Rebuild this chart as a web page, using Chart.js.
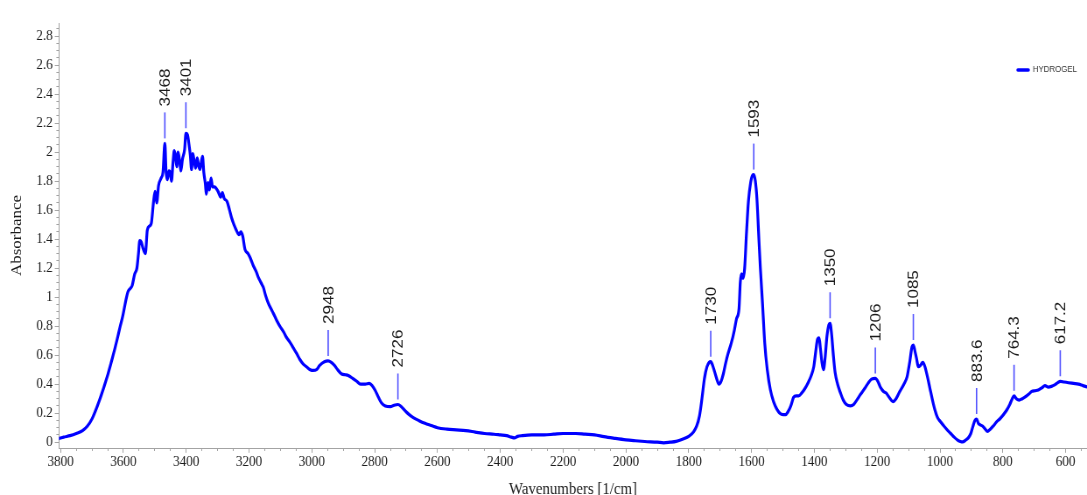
<!DOCTYPE html>
<html>
<head>
<meta charset="utf-8">
<title>HYDROGEL FTIR spectrum</title>
<script src="https://cdn.jsdelivr.net/npm/chart.js@4.4.1/dist/chart.umd.min.js"></script>
<style>
  html, body { margin: 0; padding: 0; background: #ffffff; overflow: hidden; }
  #spectrum { display: block; }
</style>
</head>
<body>
<!-- the drawing surface is rendered wide and shown narrower, giving the condensed look of the plot -->
<canvas id="spectrum" width="1242" height="495" style="width:1087px;height:495px"></canvas>
<script>
// ---- data -------------------------------------------------------------
const seriesName = 'HYDROGEL';

// wavenumber (1/cm), descending
const wavenumbers = [
  3805, 3790, 3770, 3750, 3730, 3715, 3700, 3690, 3676, 3662,
  3649, 3635, 3622, 3610, 3601, 3592, 3585, 3578, 3572, 3564,
  3557, 3552, 3548, 3543, 3538, 3530, 3524, 3517, 3511, 3504,
  3499, 3494, 3488, 3480, 3474, 3468, 3464, 3460, 3455, 3450,
  3447, 3442, 3438, 3433, 3430, 3426, 3421, 3417, 3412, 3405,
  3401, 3396, 3391, 3387, 3383, 3379, 3374, 3370, 3365, 3360,
  3356, 3352, 3348, 3344, 3339, 3336, 3331, 3326, 3321, 3316,
  3310, 3299, 3290, 3285, 3279, 3270, 3262, 3256, 3248, 3240,
  3232, 3226, 3220, 3213, 3203, 3196, 3187, 3178, 3171, 3162,
  3155, 3147, 3139, 3130, 3123, 3112, 3102, 3090, 3080, 3070,
  3059, 3048, 3038, 3028, 3017, 3005, 2996, 2985, 2975, 2960,
  2948, 2938, 2928, 2918, 2905, 2893, 2884, 2870, 2857, 2845,
  2830, 2817, 2808, 2799, 2788, 2778, 2766, 2750, 2738, 2726,
  2715, 2700, 2690, 2677, 2660, 2640, 2620, 2600, 2570, 2540,
  2510, 2480, 2450, 2420, 2400, 2380, 2365, 2355, 2345, 2330,
  2300, 2260, 2230, 2200, 2160, 2130, 2100, 2070, 2040, 2000,
  1970, 1940, 1900, 1880, 1860, 1840, 1820, 1800, 1785, 1775,
  1766, 1758, 1750, 1742, 1735, 1730, 1724, 1717, 1710, 1704,
  1697, 1690, 1682, 1675, 1665, 1655, 1648, 1640, 1636, 1632,
  1627, 1622, 1616, 1610, 1603, 1597, 1593, 1588, 1583, 1578,
  1572, 1565, 1558, 1550, 1540, 1530, 1520, 1510, 1500, 1492,
  1484, 1475, 1466, 1458, 1450, 1440, 1430, 1420, 1410, 1402,
  1396, 1390, 1385, 1381, 1376, 1371, 1366, 1360, 1354, 1350,
  1345, 1340, 1334, 1326, 1317, 1308, 1298, 1285, 1275, 1265,
  1253, 1240, 1228, 1218, 1206, 1198, 1190, 1180, 1172, 1162,
  1150, 1140, 1128, 1115, 1105, 1096, 1089, 1085, 1080, 1075,
  1069, 1062, 1055, 1048, 1040, 1032, 1024, 1016, 1008, 998,
  987, 975, 966, 955, 944, 935, 928, 918, 910, 902,
  895, 889, 883.6, 878, 872, 864, 856, 849, 840, 831,
  820, 810, 798, 788, 778, 770, 764.3, 757, 748, 738,
  730, 718, 708, 697, 687, 676, 666, 655, 645, 635,
  625, 617.2, 605, 591, 575, 559, 545, 530
];

// absorbance at each wavenumber above
const absorbance = [
  0.025, 0.035, 0.045, 0.06, 0.08, 0.11, 0.16, 0.21, 0.29, 0.38,
  0.47, 0.58, 0.69, 0.80, 0.88, 0.98, 1.04, 1.06, 1.08, 1.16,
  1.20, 1.30, 1.39, 1.38, 1.34, 1.30, 1.46, 1.49, 1.51, 1.66,
  1.73, 1.65, 1.77, 1.82, 1.86, 2.06, 1.86, 1.81, 1.87, 1.85,
  1.80, 1.93, 2.01, 1.95, 1.90, 2.00, 1.94, 1.87, 1.95, 2.02,
  2.13, 2.12, 2.05, 1.98, 1.88, 1.99, 1.93, 1.89, 1.96, 1.90,
  1.88, 1.93, 1.97, 1.86, 1.78, 1.71, 1.79, 1.74, 1.82, 1.76,
  1.76, 1.73, 1.69, 1.72, 1.68, 1.66, 1.60, 1.55, 1.50, 1.46,
  1.43, 1.45, 1.42, 1.33, 1.30, 1.27, 1.22, 1.18, 1.14, 1.10,
  1.07, 1.01, 0.96, 0.92, 0.89, 0.84, 0.80, 0.76, 0.72, 0.69,
  0.65, 0.61, 0.57, 0.54, 0.52, 0.50, 0.495, 0.50, 0.53, 0.555,
  0.56, 0.55, 0.53, 0.50, 0.47, 0.465, 0.46, 0.44, 0.42, 0.40,
  0.40, 0.405, 0.39, 0.36, 0.31, 0.27, 0.25, 0.245, 0.255, 0.26,
  0.245, 0.21, 0.19, 0.17, 0.15, 0.13, 0.115, 0.10, 0.09, 0.085,
  0.08, 0.07, 0.06, 0.055, 0.05, 0.045, 0.035, 0.03, 0.04, 0.045,
  0.05, 0.05, 0.055, 0.06, 0.06, 0.055, 0.05, 0.038, 0.028, 0.016,
  0.01, 0.005, 0.0, -0.004, 0.0, 0.006, 0.02, 0.04, 0.07, 0.11,
  0.18, 0.30, 0.44, 0.52, 0.55, 0.555, 0.53, 0.48, 0.43, 0.40,
  0.42, 0.47, 0.55, 0.61, 0.68, 0.77, 0.85, 0.92, 1.10, 1.16,
  1.13, 1.20, 1.45, 1.66, 1.79, 1.84, 1.845, 1.80, 1.68, 1.46,
  1.20, 0.95, 0.68, 0.50, 0.36, 0.28, 0.23, 0.20, 0.19, 0.19,
  0.21, 0.25, 0.31, 0.32, 0.32, 0.34, 0.37, 0.41, 0.46, 0.52,
  0.62, 0.71, 0.72, 0.65, 0.55, 0.50, 0.58, 0.73, 0.81, 0.82,
  0.74, 0.61, 0.48, 0.40, 0.34, 0.29, 0.26, 0.25, 0.26, 0.29,
  0.33, 0.37, 0.41, 0.435, 0.44, 0.42, 0.38, 0.35, 0.34, 0.31,
  0.28, 0.30, 0.35, 0.40, 0.45, 0.56, 0.66, 0.67, 0.63, 0.58,
  0.52, 0.53, 0.55, 0.52, 0.45, 0.37, 0.29, 0.22, 0.17, 0.14,
  0.11, 0.08, 0.06, 0.035, 0.015, 0.005, 0.002, 0.015, 0.03, 0.06,
  0.11, 0.15, 0.16, 0.13, 0.12, 0.11, 0.09, 0.075, 0.09, 0.11,
  0.14, 0.16, 0.19, 0.22, 0.26, 0.30, 0.32, 0.30, 0.29, 0.30,
  0.31, 0.33, 0.35, 0.355, 0.36, 0.375, 0.39, 0.38, 0.385, 0.395,
  0.41, 0.42, 0.415, 0.41, 0.405, 0.40, 0.39, 0.38
];

// annotated band positions (1/cm); each label is drawn from its value
const peakPositions = [3468, 3401, 2948, 2726, 1730, 1593, 1350, 1206, 1085, 883.6, 764.3, 617.2];

// ---- styling ------------------------------------------------------------
const SERIF = '"Liberation Serif", "Times New Roman", serif';
const SANS = '"Liberation Sans", Arial, sans-serif';
const AXIS_GRAY = '#a3a3a3';
const TEXT_DARK = '#1a1a1a';
const LINE_BLUE = '#0000ff';
const MARKER_BLUE = '#5050ff';
const MINOR_TICK = 3;
const MAJOR_TICK_X = 4.8;
const MAJOR_TICK_Y = 4.8;

const isMultipleOf = (v, step) => Math.abs(v / step - Math.round(v / step)) < 1e-6;
const alignPx = (p, w) => Math.round(p - w / 2) + w / 2;

// longer marks on labelled ticks, peak markers and the series key
const decorations = {
  id: 'decorations',
  afterDraw(chart) {
    const ctx = chart.ctx;
    const xs = chart.scales.x;
    const ys = chart.scales.y;
    ctx.save();

    ctx.strokeStyle = AXIS_GRAY;
    ctx.lineWidth = 1;
    xs.ticks.forEach(t => {
      if (!t.label) return;
      const x = alignPx(xs.getPixelForValue(t.value), 1);
      ctx.beginPath();
      ctx.moveTo(x, xs.top + MINOR_TICK - 0.5);
      ctx.lineTo(x, xs.top + MAJOR_TICK_X);
      ctx.stroke();
    });
    ys.ticks.forEach(t => {
      if (!t.label) return;
      const y = alignPx(ys.getPixelForValue(t.value), 1);
      ctx.beginPath();
      ctx.moveTo(ys.right - MINOR_TICK + 0.5, y);
      ctx.lineTo(ys.right - MAJOR_TICK_Y, y);
      ctx.stroke();
    });

    // band labels: short marker above the curve, rotated text above it
    ctx.font = '17px ' + SANS;
    ctx.textAlign = 'left';
    ctx.textBaseline = 'middle';
    peakPositions.forEach(w => {
      const i = wavenumbers.indexOf(w);
      const x = xs.getPixelForValue(w);
      const y = ys.getPixelForValue(absorbance[i]);
      ctx.strokeStyle = MARKER_BLUE;
      ctx.lineWidth = 1.6;
      ctx.beginPath();
      ctx.moveTo(x, y - 5);
      ctx.lineTo(x, y - 31);
      ctx.stroke();
      ctx.save();
      ctx.translate(x + 1, y - 37);
      ctx.rotate(-Math.PI / 2);
      ctx.fillStyle = TEXT_DARK;
      ctx.fillText(String(w), 0, 0);
      ctx.restore();
    });

    // series key, top right
    const keyY = 70;
    ctx.strokeStyle = LINE_BLUE;
    ctx.lineWidth = 3.5;
    ctx.lineCap = 'round';
    ctx.beginPath();
    ctx.moveTo(1163, keyY);
    ctx.lineTo(1175, keyY);
    ctx.stroke();
    ctx.fillStyle = '#333333';
    ctx.font = '9px ' + SANS;
    ctx.textAlign = 'left';
    ctx.textBaseline = 'middle';
    ctx.fillText(seriesName, 1180, keyY);

    ctx.restore();
  }
};

const points = wavenumbers.map((w, i) => ({ x: w, y: absorbance[i] }));

new Chart(document.getElementById('spectrum'), {
  type: 'line',
  data: {
    datasets: [{
      label: seriesName,
      data: points,
      borderColor: LINE_BLUE,
      borderWidth: 3.2,
      pointRadius: 0,
      fill: false,
      cubicInterpolationMode: 'monotone',
      borderJoinStyle: 'round',
      borderCapStyle: 'round'
    }]
  },
  options: {
    responsive: false,
    devicePixelRatio: 1,
    animation: false,
    events: [],
    layout: { padding: { top: 23, right: 0, bottom: 0, left: 0 } },
    plugins: {
      legend: { display: false },
      tooltip: { enabled: false },
      title: { display: false }
    },
    scales: {
      x: {
        type: 'linear',
        reverse: true,
        min: 532,
        max: 3805,
        border: { display: true, color: AXIS_GRAY, width: 1 },
        grid: { display: true, drawOnChartArea: false, drawTicks: true, tickLength: MINOR_TICK, tickColor: AXIS_GRAY },
        ticks: {
          stepSize: 50,
          autoSkip: false,
          maxRotation: 0,
          minRotation: 0,
          includeBounds: false,
          padding: 2.5,
          color: TEXT_DARK,
          font: { family: SERIF, size: 15 },
          callback: v => (isMultipleOf(v, 200) ? String(Math.round(v)) : '')
        },
        title: {
          display: true,
          text: 'Wavenumbers [1/cm]',
          color: TEXT_DARK,
          font: { family: SERIF, size: 17 },
          padding: { top: 0, bottom: -5 }
        },
        afterFit: s => { s.height = 47; }
      },
      y: {
        type: 'linear',
        min: -0.04,
        max: 2.89,
        border: { display: true, color: AXIS_GRAY, width: 1 },
        grid: { display: true, drawOnChartArea: false, drawTicks: true, tickLength: MINOR_TICK, tickColor: AXIS_GRAY },
        ticks: {
          stepSize: 0.05,
          autoSkip: false,
          includeBounds: false,
          padding: 4.2,
          color: TEXT_DARK,
          font: { family: SERIF, size: 15 },
          callback: v => (isMultipleOf(v, 0.2) ? String(+v.toFixed(1)) : '')
        },
        title: {
          display: true,
          text: 'Absorbance',
          color: TEXT_DARK,
          font: { family: SERIF, size: 17 },
          padding: { top: 9, bottom: 0 }
        },
        afterFit: s => { s.width = 67.4; }
      }
    }
  },
  plugins: [decorations]
});
</script>
</body>
</html>
